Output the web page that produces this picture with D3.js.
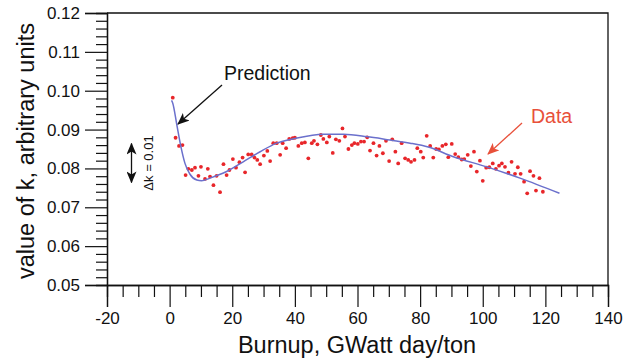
<!DOCTYPE html>
<html>
<head>
<meta charset="utf-8">
<script src="https://cdn.jsdelivr.net/npm/d3@7"></script>
<style>
  body { margin: 0; background: #fff; }
  svg text { font-family: "Liberation Sans", Arial, Helvetica, sans-serif; }
</style>
</head>
<body>
<div id="container"></div>
<script>
// data
const burnup = [1.0, 1.9, 3.0, 4.1, 5.1, 6.0, 7.1, 8.1, 9.2, 10.0, 11.3, 12.2, 12.9, 14.0, 15.0, 16.1, 17.2, 18.2, 19.1, 20.2,
  21.2, 22.3, 23.3, 24.1, 25.1, 26.2, 27.1, 28.0, 28.9, 30.1, 31.2, 32.1, 33.1, 34.2, 35.3, 36.1, 37.2, 38.2, 39.3, 40.0,
  41.1, 42.2, 43.2, 44.3, 45.4, 46.1, 47.2, 48.3, 49.1, 50.2, 51.0, 52.1, 53.1, 54.2, 55.2, 56.0, 57.1, 58.2, 59.0, 60.1,
  61.1, 62.1, 63.1, 64.0, 65.1, 66.1, 67.0, 68.1, 69.1, 70.1, 71.1, 72.1, 73.0, 74.1, 75.2, 76.2, 77.1, 78.2, 79.1, 80.2,
  81.0, 82.1, 83.2, 84.2, 85.1, 86.0, 87.1, 88.2, 89.0, 90.1, 91.2, 92.2, 93.3, 94.1, 95.2, 96.2, 97.2, 98.1, 99.1, 100.0,
  101.1, 102.1, 103.2, 104.2, 105.2, 106.1, 107.1, 108.2, 109.2, 110.3, 111.2, 112.1, 113.2, 114.2, 115.1, 116.2, 117.0, 118.1, 119.2];
const kValue = [0.0982, 0.0879, 0.0858, 0.0860, 0.0783, 0.0799, 0.0796, 0.0802, 0.0781, 0.0804, 0.0773, 0.0799, 0.0779, 0.0757, 0.0781, 0.0739, 0.0811, 0.0783, 0.0796, 0.0824,
  0.0802, 0.0816, 0.0828, 0.0790, 0.0836, 0.0836, 0.0828, 0.0822, 0.0811, 0.0833, 0.0845, 0.0819, 0.0865, 0.0865, 0.0835, 0.0865, 0.0852, 0.0876, 0.0878, 0.0879,
  0.0858, 0.0865, 0.0867, 0.0826, 0.0865, 0.0871, 0.0862, 0.0886, 0.0876, 0.0867, 0.0882, 0.0840, 0.0875, 0.0871, 0.0903, 0.0882, 0.0850, 0.0860, 0.0865, 0.0863,
  0.0869, 0.0869, 0.0880, 0.0846, 0.0865, 0.0833, 0.0858, 0.0839, 0.0871, 0.0819, 0.0875, 0.0843, 0.0813, 0.0865, 0.0826, 0.0822, 0.0817, 0.0822, 0.0852, 0.0843,
  0.0828, 0.0884, 0.0858, 0.0828, 0.0850, 0.0849, 0.0858, 0.0862, 0.0829, 0.0863, 0.0837, 0.0829, 0.0823, 0.0824, 0.0835, 0.0806, 0.0843, 0.0792, 0.0820, 0.0768,
  0.0802, 0.0803, 0.0813, 0.0799, 0.0807, 0.0813, 0.0804, 0.0789, 0.0817, 0.0786, 0.0803, 0.0786, 0.0766, 0.0736, 0.0793, 0.0781, 0.0743, 0.0775, 0.0740];
// prediction curve
const predBurnup = [0.6, 1.0, 2.3, 3.5, 4.9, 6.5, 8.7, 10.2, 12.9, 18.2, 23.5, 28.9, 34.2, 40.0, 49.1, 55.5, 63.0, 70.4, 76.8, 82.6, 90.6, 101.3, 111.9, 124.5];
const predK = [0.0975, 0.0968, 0.0912, 0.0860, 0.0813, 0.0785, 0.0770, 0.0768, 0.0775, 0.0792, 0.0817, 0.0843, 0.0865, 0.0877, 0.0888, 0.0888, 0.0882, 0.0873, 0.0865, 0.0855, 0.0830, 0.0804, 0.0775, 0.0736];
const xTicks = [-20, 0, 20, 40, 60, 80, 100, 120, 140];
const yTicks = [0.05, 0.06, 0.07, 0.08, 0.09, 0.10, 0.11, 0.12];

const W = 635, H = 361;
const m = { top: 13, right: 27, bottom: 76, left: 107 };

const svg = d3.select("#container").append("svg")
  .attr("width", W).attr("height", H);

const x = d3.scaleLinear().domain([-20, 140]).range([m.left, W - m.right]);
const y = d3.scaleLinear().domain([0.05, 0.12]).range([H - m.bottom, m.top]);

// markers
const defs = svg.append("defs");
[["arrBlack", "#111"], ["arrRed", "#e8503a"]].forEach(([id, c]) => {
  defs.append("marker").attr("id", id)
    .attr("viewBox", "0 0 12 10").attr("refX", 11).attr("refY", 5)
    .attr("markerWidth", 12).attr("markerHeight", 10)
    .attr("markerUnits", "userSpaceOnUse").attr("orient", "auto-start-reverse")
    .append("path").attr("d", "M0,0 L12,5 L0,10 L3,5 Z").attr("fill", c);
});

// axes
const xMinor = d3.range(-20, 141, 5).filter(v => v % 20 !== 0);
const yMinor = d3.range(0, 36).map(i => +(0.05 + i * 0.002).toFixed(3)).filter(v => Math.round(v * 1000) % 10 !== 0);

const gx = svg.append("g").attr("transform", `translate(0,${y(0.05)})`);
gx.call(d3.axisBottom(x).tickValues(xTicks).tickSize(22).tickPadding(5).tickFormat(d => String(d)));
gx.append("g").call(d3.axisBottom(x).tickValues(xMinor).tickSize(12).tickFormat(""));

const gy = svg.append("g").attr("transform", `translate(${x(-20)},0)`);
gy.call(d3.axisLeft(y).tickValues(yTicks).tickSize(22).tickPadding(5).tickFormat(d3.format(".2f")));
gy.append("g").call(d3.axisLeft(y).tickValues(yMinor).tickSize(11).tickFormat(""));

svg.selectAll(".domain").attr("stroke", "#111").attr("stroke-width", 1.3);
svg.selectAll(".tick line").attr("stroke", "#111").attr("stroke-width", 1.2);
svg.selectAll(".tick text").attr("fill", "#111").style("font-size", "17px");
gx.selectAll(".tick text").attr("dy", "0.68em");

// top and right frame lines
svg.append("path")
  .attr("d", `M${x(-20)},${y(0.12)} H${x(140)} V${y(0.05)}`)
  .attr("fill", "none").attr("stroke", "#111").attr("stroke-width", 1.3);

// axis titles
svg.append("text")
  .attr("transform", `translate(34,${(y(0.05) + y(0.12)) / 2 + 2}) rotate(-90)`)
  .attr("text-anchor", "middle").style("font-size", "23.5px").attr("fill", "#111")
  .text("value of k, arbitrary units");
svg.append("text")
  .attr("x", 357).attr("y", 353)
  .attr("text-anchor", "middle").style("font-size", "23.5px").attr("fill", "#111")
  .text("Burnup, GWatt day/ton");

// data points
svg.append("g").selectAll("circle")
  .data(burnup.map((b, i) => [b, kValue[i]]))
  .enter().append("circle")
  .attr("cx", d => x(d[0])).attr("cy", d => y(d[1]))
  .attr("r", 1.9).attr("fill", "#e8262a");

// prediction line
const line = d3.line().x(d => x(d[0])).y(d => y(d[1])).curve(d3.curveMonotoneX);
svg.append("path")
  .datum(predBurnup.map((b, i) => [b, predK[i]]))
  .attr("d", line)
  .attr("fill", "none").attr("stroke", "#6b70cc").attr("stroke-width", 1.5);

// annotations
svg.append("text").attr("x", 224).attr("y", 80)
  .style("font-size", "19.5px").attr("fill", "#111").text("Prediction");
svg.append("line")
  .attr("x1", 222).attr("y1", 85).attr("x2", 178).attr("y2", 124)
  .attr("stroke", "#111").attr("stroke-width", 1.3).attr("marker-end", "url(#arrBlack)");

svg.append("text").attr("x", 531).attr("y", 123)
  .style("font-size", "19.5px").attr("fill", "#e8503a").text("Data");
svg.append("line")
  .attr("x1", 522).attr("y1", 123).attr("x2", 488).attr("y2", 154)
  .attr("stroke", "#e8503a").attr("stroke-width", 1.3).attr("marker-end", "url(#arrRed)");

// delta k scale bar: 0.01 in k
const barX = 131.5, barMid = 163;
const half = (y(0.08) - y(0.09)) / 2;
svg.append("line")
  .attr("x1", barX).attr("x2", barX)
  .attr("y1", barMid - half).attr("y2", barMid + half)
  .attr("stroke", "#111").attr("stroke-width", 1.3)
  .attr("marker-start", "url(#arrBlack)").attr("marker-end", "url(#arrBlack)");
svg.append("text")
  .attr("transform", `translate(153,${barMid}) rotate(-90)`)
  .attr("text-anchor", "middle").style("font-size", "13px").attr("fill", "#111")
  .text("Δk = 0.01");
</script>
</body>
</html>
